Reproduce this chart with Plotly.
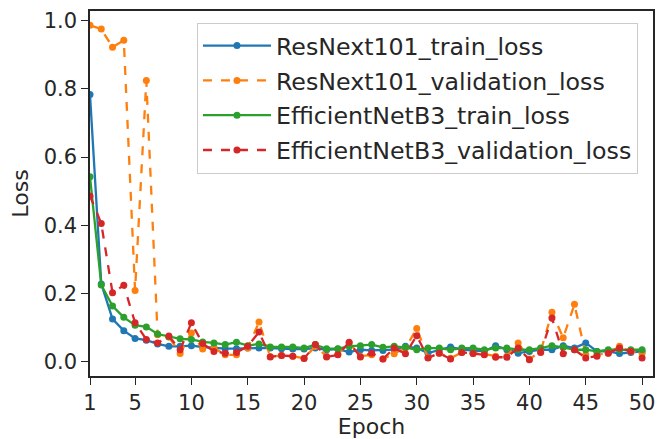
import plotly.graph_objects as go

epochs = list(range(1, 51))

resnext_train = [0.783, 0.228, 0.125, 0.091, 0.068, 0.063, 0.052, 0.045, 0.045, 0.047,
                 0.043, 0.040, 0.038, 0.038, 0.040, 0.040, 0.040, 0.038, 0.037, 0.037,
                 0.040, 0.035, 0.037, 0.028, 0.035, 0.033, 0.033, 0.035, 0.045, 0.040,
                 0.025, 0.035, 0.043, 0.035, 0.033, 0.030, 0.047, 0.035, 0.025, 0.030,
                 0.035, 0.035, 0.047, 0.040, 0.055, 0.030, 0.030, 0.024, 0.027, 0.030]

resnext_val = [0.986, 0.975, 0.922, 0.942, 0.209, 0.824, 0.079, 0.072, 0.024, 0.084,
               0.037, 0.040, 0.020, 0.020, 0.040, 0.116, 0.015, 0.018, 0.016, 0.010,
               0.045, 0.016, 0.022, 0.055, 0.016, 0.020, 0.008, 0.023, 0.040, 0.097,
               0.012, 0.025, 0.010, 0.027, 0.024, 0.022, 0.016, 0.016, 0.055, 0.008,
               0.030, 0.145, 0.070, 0.168, 0.020, 0.020, 0.025, 0.045, 0.030, 0.025]

effnet_train = [0.542, 0.225, 0.163, 0.130, 0.107, 0.102, 0.081, 0.073, 0.067, 0.065,
                0.058, 0.055, 0.050, 0.057, 0.047, 0.052, 0.043, 0.043, 0.043, 0.040,
                0.050, 0.038, 0.038, 0.045, 0.047, 0.050, 0.042, 0.045, 0.042, 0.035,
                0.040, 0.040, 0.035, 0.040, 0.040, 0.035, 0.040, 0.040, 0.035, 0.035,
                0.040, 0.047, 0.042, 0.035, 0.035, 0.030, 0.035, 0.035, 0.035, 0.035]

effnet_val = [0.486, 0.405, 0.202, 0.224, 0.114, 0.065, 0.055, 0.075, 0.035, 0.114,
              0.053, 0.030, 0.025, 0.027, 0.045, 0.087, 0.014, 0.018, 0.016, 0.009,
              0.050, 0.014, 0.020, 0.057, 0.014, 0.025, 0.008, 0.040, 0.023, 0.076,
              0.011, 0.025, 0.008, 0.027, 0.024, 0.020, 0.013, 0.013, 0.040, 0.006,
              0.027, 0.128, 0.023, 0.035, 0.011, 0.016, 0.025, 0.040, 0.030, 0.011]

x_ticks = [1, 5, 10, 15, 20, 25, 30, 35, 40, 45, 50]
y_ticks = [0.0, 0.2, 0.4, 0.6, 0.8, 1.0]

series = [
    ("ResNext101_train_loss", resnext_train, "#1f77b4", "solid"),
    ("ResNext101_validation_loss", resnext_val, "#ff7f0e", "dash"),
    ("EfficientNetB3_train_loss", effnet_train, "#2ca02c", "solid"),
    ("EfficientNetB3_validation_loss", effnet_val, "#d62728", "dash"),
]

fig = go.Figure()
for i, (name, vals, color, dash) in enumerate(series):
    fig.add_trace(go.Scatter(
        x=epochs, y=vals, name=name, mode="lines+markers",
        line=dict(color=color, width=2.3, dash=dash),
        marker=dict(color=color, size=7),
        legendgroup=str(i),
    ))

font_family = "DejaVu Sans, sans-serif"
# the page body adds an 8px offset, so the figure is 8px smaller and margins shifted
fig.update_layout(
    width=659, height=431,
    margin=dict(l=82, r=14, t=3, b=63, autoexpand=False),
    paper_bgcolor="white", plot_bgcolor="white",
    font=dict(family=font_family, size=21, color="#262626"),
    showlegend=True,
    legend=dict(
        x=0.19, y=0.968, xanchor="left", yanchor="top",
        bgcolor="rgba(255,255,255,0.8)", bordercolor="#cccccc", borderwidth=1,
        font=dict(size=23.7, color="#262626"),
        tracegroupgap=1,
        itemwidth=68,
    ),
    xaxis=dict(
        range=[1, 50.97], tickmode="array", tickvals=x_ticks,
        ticks="outside", ticklen=7, tickwidth=1.3, tickcolor="#262626",
        showline=True, linecolor="#262626", linewidth=1.5, mirror=True,
        showgrid=False, zeroline=False, automargin=False,
        title=dict(text="Epoch", font=dict(size=22), standoff=4),
        tickfont=dict(size=21),
    ),
    yaxis=dict(
        range=[-0.042, 1.028], tickmode="array", tickvals=y_ticks,
        tickformat=".1f",
        ticks="outside", ticklen=7, tickwidth=1.3, tickcolor="#262626",
        showline=True, linecolor="#262626", linewidth=1.5, mirror=True,
        showgrid=False, zeroline=False, automargin=False,
        title=dict(text="Loss", font=dict(size=22), standoff=10),
        tickfont=dict(size=21),
    ),
)

fig.write_html("out.html")
